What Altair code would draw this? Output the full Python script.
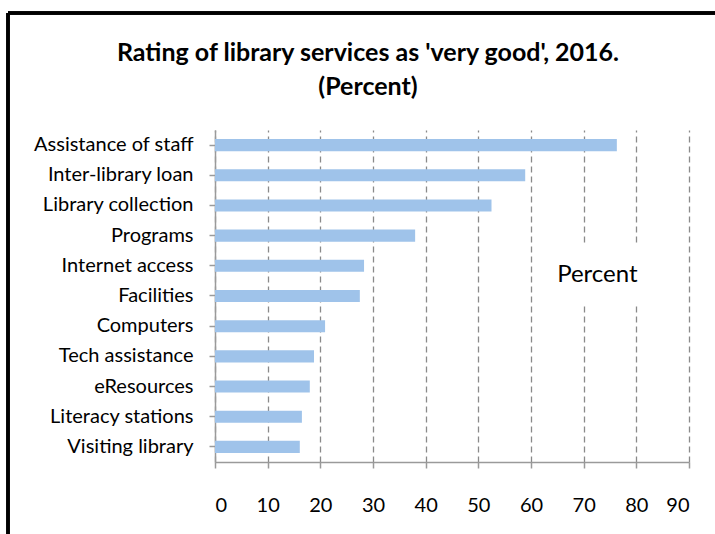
import altair as alt
import pandas as pd

# Share of respondents rating each library service as "very good", 2016
services = [
    "Assistance of staff",
    "Inter-library loan",
    "Library collection",
    "Programs",
    "Internet access",
    "Facilities",
    "Computers",
    "Tech assistance",
    "eResources",
    "Literacy stations",
    "Visiting library",
]
percent = [76.3, 58.9, 52.5, 38.0, 28.3, 27.5, 20.9, 18.8, 18.0, 16.5, 16.1]

x_ticks = [0, 10, 20, 30, 40, 50, 60, 70, 80, 90]

title_lines = ["Rating of library services as 'very good', 2016.", "(Percent)"]

df = pd.DataFrame({"service": services, "percent": percent})

FONT = "Lato"
W, H = 474, 332

y_enc = alt.Y(
    "service:N",
    sort=services,
    scale=alt.Scale(paddingInner=0.6, paddingOuter=0.3),
    axis=alt.Axis(
        title=None,
        labelFont=FONT,
        labelFontSize=20,
        labelColor="#000000",
        labelPadding=16,
        tickSize=6,
        tickColor="#9a9a9a",
        tickWidth=1.5,
        domainColor="#9a9a9a",
        domainWidth=1.5,
        grid=False,
    ),
)

x_scale = alt.Scale(domain=[0, 90], nice=False)

bars = alt.Chart(df).mark_bar(color="#9fc3ea").encode(
    y=y_enc,
    x=alt.X(
        "percent:Q",
        scale=x_scale,
        axis=alt.Axis(
            title=None,
            values=x_ticks,
            labelFont=FONT,
            labelFontSize=20,
            labelColor="#000000",
            labelPadding=27,
            tickSize=6,
            tickColor="#9a9a9a",
            tickWidth=1.5,
            domainColor="#9a9a9a",
            domainWidth=1.5,
            grid=True,
            gridColor="#8a8a8a",
            gridWidth=1.3,
            gridDash=[6, 4],
        ),
    ),
)

# Axis-title label sitting inside the plot on a white patch
label_df = pd.DataFrame({"x0": [63.0], "x1": [82.6], "xm": [72.6], "text": ["Percent"]})

patch = alt.Chart(label_df).mark_rect(color="white").encode(
    x=alt.X("x0:Q", scale=x_scale),
    x2="x1:Q",
    y=alt.value(115),
    y2=alt.value(175),
)

label = alt.Chart(label_df).mark_text(
    font=FONT, fontSize=24, color="#000000", align="center", baseline="middle"
).encode(
    x=alt.X("xm:Q", scale=x_scale),
    y=alt.value(145),
    text="text:N",
)

# Two-line chart heading above the plot
heading1 = alt.Chart(pd.DataFrame({"t": [title_lines[0]]})).mark_text(
    font=FONT, fontSize=25, fontWeight="bold", color="#000000",
    align="center", baseline="middle",
).encode(x=alt.value(153), y=alt.value(-77), text="t:N")
heading2 = alt.Chart(pd.DataFrame({"t": [title_lines[1]]})).mark_text(
    font=FONT, fontSize=25, fontWeight="bold", color="#000000",
    align="center", baseline="middle",
).encode(x=alt.value(153), y=alt.value(-43), text="t:N")

# Chart-area frame: top and left edges
frame_top = alt.Chart(df).mark_rule(color="#000000", strokeWidth=2.5).encode(
    x=alt.value(-207), x2=alt.value(500), y=alt.value(-117)
)
frame_left = alt.Chart(df).mark_rule(color="#000000", strokeWidth=2.5).encode(
    x=alt.value(-207), y=alt.value(-117), y2=alt.value(404)
)

chart = (
    alt.layer(patch, bars, label, heading1, heading2, frame_top, frame_left)
    .properties(
        width=W,
        height=H,
        autosize=alt.AutoSizeParams(type="none"),
        padding={"left": 215, "top": 130, "right": 26, "bottom": 72},
        background="white",
    )
    .configure_view(stroke=None)
)

chart.save("out.html", embed_options={"renderer": "svg", "actions": False})
